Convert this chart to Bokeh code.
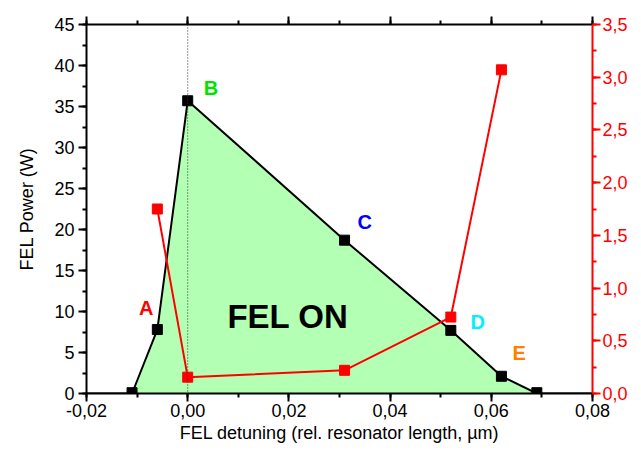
from bokeh.plotting import figure
from bokeh.models import (Range1d, LinearAxis, CustomJSTickFormatter, SingleIntervalTicker, Span)
from bokeh.embed import file_html
from bokeh.resources import INLINE

# Data
power_x = [-0.02, -0.011, -0.006, 0.0, 0.031, 0.052, 0.062, 0.069, 0.08]
power_y = [0.0, 0.0, 7.8, 35.7, 18.7, 7.7, 2.1, 0.0, 0.0]
marker_x = [-0.011, -0.006, 0.0, 0.031, 0.052, 0.062, 0.069]
marker_y = [0.1, 7.8, 35.7, 18.7, 7.7, 2.1, 0.1]
red_x = [-0.006, 0.0, 0.031, 0.052, 0.062]
red_y = [1.75, 0.155, 0.22, 0.725, 3.07]
labels = ["A", "B", "C", "D", "E"]
label_x = [-0.0082, 0.0046, 0.035, 0.0573, 0.0655]
label_y = [10.4, 37.2, 20.9, 8.7, 5.0]
label_colors = ["#ff0000", "#00e400", "#0000ff", "#00f0ff", "#ff8000"]

FONT = "Liberation Sans"

p = figure(width=633, height=448, output_backend="svg", toolbar_location=None,
           x_range=Range1d(-0.02, 0.08), y_range=Range1d(0, 45),
           min_border_left=86, min_border_right=41, min_border_top=24, min_border_bottom=55)
p.extra_y_ranges = {"right": Range1d(0, 3.5)}
p.grid.visible = False
p.outline_line_color = None
p.background_fill_color = "white"

# Fill area
p.varea(x=power_x, y1=[0] * len(power_x), y2=power_y, fill_color="#b3ffb3")

# Dotted vertical line at zero
p.add_layout(Span(location=0, dimension="height", line_color="#333333", line_width=1, line_dash="1 2"))

p.line(power_x, power_y, line_color="black", line_width=2)
p.scatter(marker_x, marker_y, marker="square", size=10, fill_color="black", line_color="black")

p.line(red_x, red_y, line_color="#ff0000", line_width=2, y_range_name="right")
p.scatter(red_x, red_y, marker="square", size=10, fill_color="#ff0000", line_color="#ff0000", y_range_name="right")

for t, x, y, c in zip(labels, label_x, label_y, label_colors):
    p.text(x=[x], y=[y], text=[t], text_color=c, text_font_size="20px", text_font_style="bold",
           text_align="center", text_baseline="middle", text_font={"value": FONT})

p.text(x=[0.0198], y=[9.4], text=["FEL ON"], text_color="black", text_font_size="33px",
       text_font_style="bold", text_align="center", text_baseline="middle", text_font={"value": FONT})

def style_axis(ax, color="black"):
    ax.axis_line_width = 2
    ax.axis_line_color = color
    ax.major_tick_line_color = color
    ax.minor_tick_line_color = color
    ax.major_tick_line_width = 2
    ax.minor_tick_line_width = 2
    ax.major_tick_out = 8
    ax.major_tick_in = 0
    ax.minor_tick_out = 4
    ax.minor_tick_in = 0
    ax.major_label_text_color = color
    ax.major_label_text_font = FONT
    ax.major_label_text_font_size = "18px"
    ax.major_label_standoff = 4
    ax.axis_label_text_font = FONT
    ax.axis_label_text_font_size = "18px"
    ax.axis_label_text_font_style = "normal"
    ax.axis_label_text_color = color

xfmt = CustomJSTickFormatter(code="return tick.toFixed(2).replace('.', ',').replace('-0,00','0,00');")
xa = p.xaxis[0]
xa.ticker = SingleIntervalTicker(interval=0.02, num_minor_ticks=2)
xa.formatter = xfmt
xa.axis_label = "FEL detuning (rel. resonator length, µm)"
style_axis(xa)
xa.major_label_standoff = 2
xa.axis_label_standoff = 3

ya = p.yaxis[0]
ya.ticker = SingleIntervalTicker(interval=5, num_minor_ticks=2)
ya.axis_label = "FEL Power (W)"
style_axis(ya)
ya.axis_label_standoff = 14

top = LinearAxis(ticker=SingleIntervalTicker(interval=0.02, num_minor_ticks=2),
                 formatter=CustomJSTickFormatter(code="return '';"))
style_axis(top)
top.major_label_text_font_size = "0px"
top.major_label_standoff = 0
p.add_layout(top, "above")

right = LinearAxis(y_range_name="right",
                   ticker=SingleIntervalTicker(interval=0.5, num_minor_ticks=2),
                   formatter=CustomJSTickFormatter(code="return tick.toFixed(1).replace('.', ',');"))
style_axis(right, "#ff0000")
right.major_label_standoff = 2
p.add_layout(right, "right")

open("out.html", "w").write(file_html(p, INLINE))
